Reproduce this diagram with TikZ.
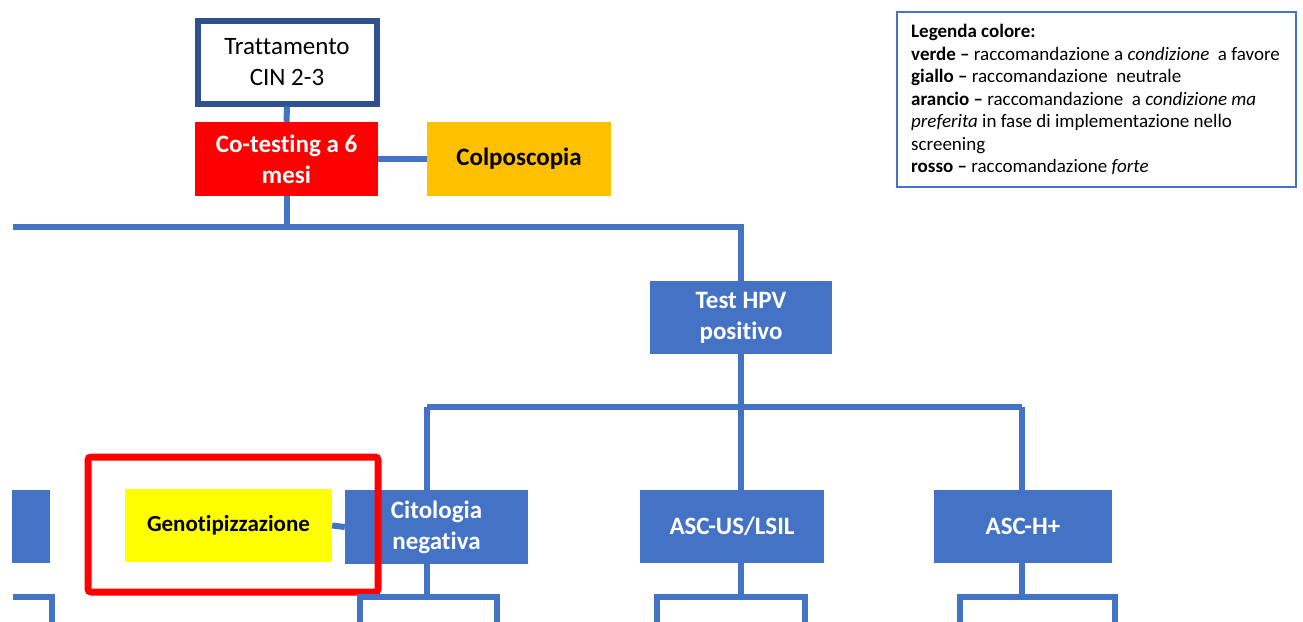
\documentclass[tikz,border=0pt]{standalone}
\usepackage{fontspec}
\setmainfont{Carlito}[Ligatures=NoCommon]
\definecolor{cblue}{HTML}{4472C4}
\definecolor{dblue}{HTML}{2F528F}
\definecolor{corange}{HTML}{FFC000}
\definecolor{cyellow}{HTML}{FFFF00}
\definecolor{cred}{HTML}{FF0000}
\tikzset{
  x=1pt, y=1pt,
  bluebox/.style={fill=cblue, text=white, font=\fontsize{25}{31}\selectfont\bfseries, align=center, inner sep=0pt},
  conn/.style={draw=cblue, line width=6pt},
}
\begin{document}
\begin{tikzpicture}
\useasboundingbox (0,0) rectangle (1303,-621);
\clip (0,0) rectangle (1303,-621);
% nodes
\node[draw=dblue, line width=6pt, fill=white, minimum width=179pt, minimum height=83pt, align=center, inner sep=0pt, font=\fontsize{25}{31}\selectfont] (tratt) at (287,-62) {Trattamento\\CIN 2-3};
\node[bluebox, fill=cred, minimum width=183pt, minimum height=74pt] (cot) at (286.5,-159) {Co-testing a 6\\mesi};
\node[bluebox, fill=corange, text=black, minimum width=184pt, minimum height=74pt] (colp) at (519,-159) {Colposcopia};
\node[bluebox, minimum width=182pt, minimum height=73pt] (hpv) at (741,-317.5) {Test HPV\\positivo};
\node[bluebox, minimum width=183pt, minimum height=74pt] (cito) at (436.5,-527) {Citologia\\negativa};
\node[bluebox, fill=cyellow, text=black, minimum width=207pt, minimum height=73pt, font=\fontsize{23}{27}\selectfont\bfseries] (geno) at (228.5,-525.5) {Genotipizzazione};
\node[bluebox, minimum width=184pt, minimum height=73pt] (ascus) at (732,-526.5) {ASC-US/LSIL};
\node[bluebox, minimum width=178pt, minimum height=73pt] (asch) at (1023,-526.5) {ASC-H+};
\node[bluebox, minimum width=38pt, minimum height=73pt] (lft) at (31,-526.5) {};
% highlight
\node[draw=cred, line width=7pt, rounded corners=3pt, minimum width=290pt, minimum height=135pt, inner sep=0pt] (hl) at (233,-524.5) {};
% legend
\node[draw=cblue, line width=2pt, anchor=north west, minimum width=399pt, minimum height=175pt, inner sep=0pt] (leg) at (896,-11) {};
\node[anchor=north west, align=left, inner sep=0pt, font=\fontsize{19}{22.5}\selectfont] (legtxt) at (911,-24) {%
\textbf{Legenda colore:}\\
\textbf{verde –} raccomandazione a \textit{condizione}\ \ a favore\\
\textbf{giallo –} raccomandazione\ \ neutrale\\
\textbf{arancio –} raccomandazione\ \ a \textit{condizione ma}\\
\textit{preferita} in fase di implementazione nello\\
screening\\
\textbf{rosso –} raccomandazione \textit{forte}};
% coordinates
\coordinate (h1l) at (13,-227);
\coordinate (h1r) at (741,-227);
\coordinate (h2l) at (427,-407);
\coordinate (h2m) at (741,-407);
\coordinate (h2r) at (1022,-407);
% connectors
\draw[conn] (tratt.south) -- (cot.north);
\draw[conn] (cot.east) -- (colp.west);
\draw[conn] (cot.south) -- (cot.south |- h1l);
\draw[conn] (h1l) -- (h1r) -- (hpv.north);
\draw[conn] (hpv.south) -- (h2m);
\draw[conn] (h2l) -- (h2r);
\draw[conn] (h2l) -- (h2l |- cito.north);
\draw[conn] (h2m) -- (h2m |- ascus.north);
\draw[conn] (h2r) -- (h2r |- asch.north);
\draw[conn] (geno.east) -- (cito.west);
% lower brackets
\coordinate (c1) at (427,-597);
\coordinate (c1l) at (360,-597);
\coordinate (c1r) at (497,-597);
\draw[conn] (cito.south -| c1) -- (c1);
\draw[conn] (360,-630) -- (c1l) -- (c1r) -- (497,-630);
\coordinate (c2) at (741,-597);
\draw[conn] (ascus.south -| c2) -- (c2);
\draw[conn] (657,-630) -- (657,-597) -- (805,-597) -- (805,-630);
\coordinate (c3) at (1022,-597);
\draw[conn] (asch.south -| c3) -- (c3);
\draw[conn] (960,-630) -- (960,-597) -- (1115,-597) -- (1115,-630);
\draw[conn] (13,-597) -- (52,-597) -- (52,-630);
\end{tikzpicture}
\end{document}
